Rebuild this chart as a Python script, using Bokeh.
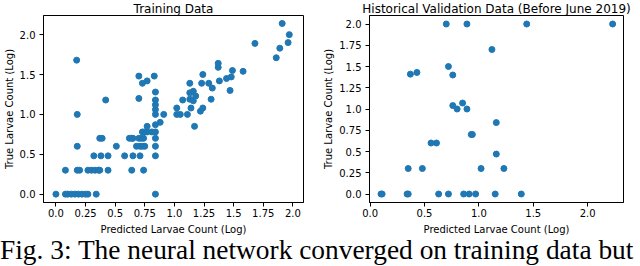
from bokeh.plotting import figure
from bokeh.models import Range1d, FixedTicker, Div
from bokeh.layouts import row, column
from bokeh.embed import file_html
from bokeh.resources import INLINE

# ---------------- data ----------------
train_pred = [
    0.00, 0.08, 0.10, 0.13, 0.16, 0.19, 0.22, 0.25, 0.27, 0.34, 0.84,
    0.08, 0.18, 0.20, 0.27, 0.30, 0.33, 0.36, 0.37, 0.44, 0.64, 0.74,
    0.32, 0.38, 0.44, 0.58, 0.65, 0.71, 0.84,
    0.18, 0.51, 0.68, 0.71, 0.73, 0.75, 0.84,
    0.37, 0.39, 0.62, 0.64, 0.65, 0.70, 0.72, 0.74, 0.84,
    0.73, 0.75, 0.77, 0.81, 0.84,
    0.77, 0.84, 1.17, 0.88,
    0.18, 0.84, 0.91, 1.02, 1.05, 1.11,
    0.84, 1.02, 1.14, 1.22, 1.24, 0.84,
    0.42, 0.70, 0.84, 1.07, 1.13, 1.16, 1.31, 1.18,
    1.13, 1.16, 1.47, 0.84, 1.32,
    1.13, 1.23, 1.29, 0.73, 0.77, 1.38, 1.44, 1.48,
    0.70, 0.83, 1.24, 1.49, 1.58, 1.37, 1.37, 0.175,
    1.68, 1.86, 1.89, 1.91, 1.97, 1.96,
]
train_true = [
    0.00, 0.00, 0.00, 0.00, 0.00, 0.00, 0.00, 0.00, 0.00, 0.00, 0.00,
    0.30, 0.30, 0.30, 0.30, 0.30, 0.30, 0.30, 0.30, 0.30, 0.30, 0.30,
    0.48, 0.48, 0.48, 0.48, 0.48, 0.48, 0.48,
    0.60, 0.60, 0.60, 0.60, 0.60, 0.60, 0.60,
    0.70, 0.70, 0.70, 0.70, 0.70, 0.70, 0.70, 0.70, 0.70,
    0.78, 0.78, 0.78, 0.78, 0.78,
    0.85, 0.87, 0.85, 0.90,
    1.00, 1.00, 1.00, 1.00, 1.00, 1.00,
    1.06, 1.08, 1.08, 1.04, 1.08, 1.12,
    1.18, 1.20, 1.18, 1.18, 1.19, 1.17, 1.19, 1.23,
    1.27, 1.29, 1.30, 1.28, 1.33,
    1.39, 1.39, 1.39, 1.39, 1.42, 1.42, 1.45, 1.47,
    1.48, 1.48, 1.50, 1.55, 1.54, 1.59, 1.64, 1.68,
    1.89, 1.71, 1.83, 2.14, 2.00, 1.90,
]

val_pred = [
    0.10, 0.11, 0.34, 0.35, 0.63, 0.72, 0.86, 0.91, 0.97, 1.15, 1.39,
    0.35, 0.48, 1.02, 1.23,
    1.16, 0.56, 0.61, 0.93, 0.94, 1.16,
    0.76, 0.80, 0.85, 0.89,
    0.37, 0.43, 0.72, 0.76, 1.12,
    0.70, 0.89, 1.44, 2.23,
]
val_true = [
    0.00, 0.00, 0.00, 0.00, 0.00, 0.00, 0.00, 0.00, 0.00, 0.00, 0.00,
    0.30, 0.30, 0.30, 0.30,
    0.47, 0.60, 0.60, 0.70, 0.70, 0.84,
    1.04, 1.00, 1.07, 1.00,
    1.41, 1.43, 1.50, 1.40, 1.70,
    2.00, 2.00, 2.00, 2.00,
]

title_train = "Training Data"
title_val = "Historical Validation Data (Before June 2019)"
x_label = "Predicted Larvae Count (Log)"
y_label = "True Larvae Count (Log)"
caption = "Fig. 3: The neural network converged on training data but"

train_xticks = [0.0, 0.25, 0.5, 0.75, 1.0, 1.25, 1.5, 1.75, 2.0]
train_xtick_labels = ["0.0", "0.25", "0.5", "0.75", "1.0", "1.25", "1.5", "1.75", "2.0"]
train_yticks = [0.0, 0.5, 1.0, 1.5, 2.0]
train_ytick_labels = ["0.0", "0.5", "1.0", "1.5", "2.0"]
val_xticks = [0.0, 0.5, 1.0, 1.5, 2.0]
val_xtick_labels = ["0.0", "0.5", "1.0", "1.5", "2.0"]
val_yticks = [0.0, 0.25, 0.5, 0.75, 1.0, 1.25, 1.5, 1.75, 2.0]
val_ytick_labels = ["0.0", "0.25", "0.5", "0.75", "1.0", "1.25", "1.5", "1.75", "2.0"]

BLUE = "#1f77b4"
FONT = "DejaVu Sans"


def make_panel(xs, ys, xr, yr, xticks, xlabels, yticks, ylabels, title,
               width, border_left):
    p = figure(width=width, height=239, x_range=Range1d(*xr), y_range=Range1d(*yr),
               output_backend="svg", toolbar_location=None,
               min_border_left=border_left, min_border_right=17,
               min_border_top=17, min_border_bottom=34)
    p.grid.visible = False
    p.outline_line_color = "black"
    p.outline_line_width = 1
    p.background_fill_color = "white"
    p.border_fill_color = "white"
    p.scatter(xs, ys, size=6, color=BLUE, line_color=BLUE, line_width=1)

    p.title.text = title
    p.title.align = "center"
    p.title.text_font = FONT
    p.title.text_font_size = "12px"
    p.title.text_font_style = "normal"
    p.title.text_color = "black"
    p.title.standoff = 0
    p.title.offset = 0

    for ax, ticks, labels in ((p.xaxis[0], xticks, xlabels), (p.yaxis[0], yticks, ylabels)):
        ax.ticker = FixedTicker(ticks=ticks)
        ax.major_label_overrides = {t: l for t, l in zip(ticks, labels)}
        ax.minor_tick_line_color = None
        ax.major_tick_in = 0
        ax.major_tick_out = 4
        ax.axis_line_color = "black"
        ax.major_tick_line_color = "black"
        ax.major_label_text_font = FONT
        ax.major_label_text_font_size = "10px"
        ax.major_label_text_color = "black"
        ax.axis_label_text_font = FONT
        ax.axis_label_text_font_size = "10px"
        ax.axis_label_text_font_style = "normal"
        ax.axis_label_text_color = "black"

    p.xaxis.axis_label = x_label
    p.yaxis.axis_label = y_label
    p.xaxis.major_label_standoff = 2
    p.yaxis.major_label_standoff = 4
    p.xaxis.axis_label_standoff = 4
    p.yaxis.axis_label_standoff = 2
    return p


p1 = make_panel(train_pred, train_true, (-0.105, 2.09), (-0.105, 2.24),
                train_xticks, train_xtick_labels, train_yticks, train_ytick_labels,
                title_train, 320, 43)
p2 = make_panel(val_pred, val_true, (-0.006, 2.33), (-0.1, 2.1),
                val_xticks, val_xtick_labels, val_yticks, val_ytick_labels,
                title_val, 320, 46)

cap = Div(text=caption, width=640, height=29, margin=(0, 0, 0, 0),
          styles={"font-family": "Liberation Serif", "font-size": "27.4px",
                  "line-height": "27.4px", "white-space": "nowrap",
                  "color": "black", "padding-top": "0px"})

layout = column(row(p1, p2, margin=(-2, 0, 0, 0)), cap, margin=(0, 0, 0, 0))

open("out.html", "w").write(file_html(layout, INLINE))
